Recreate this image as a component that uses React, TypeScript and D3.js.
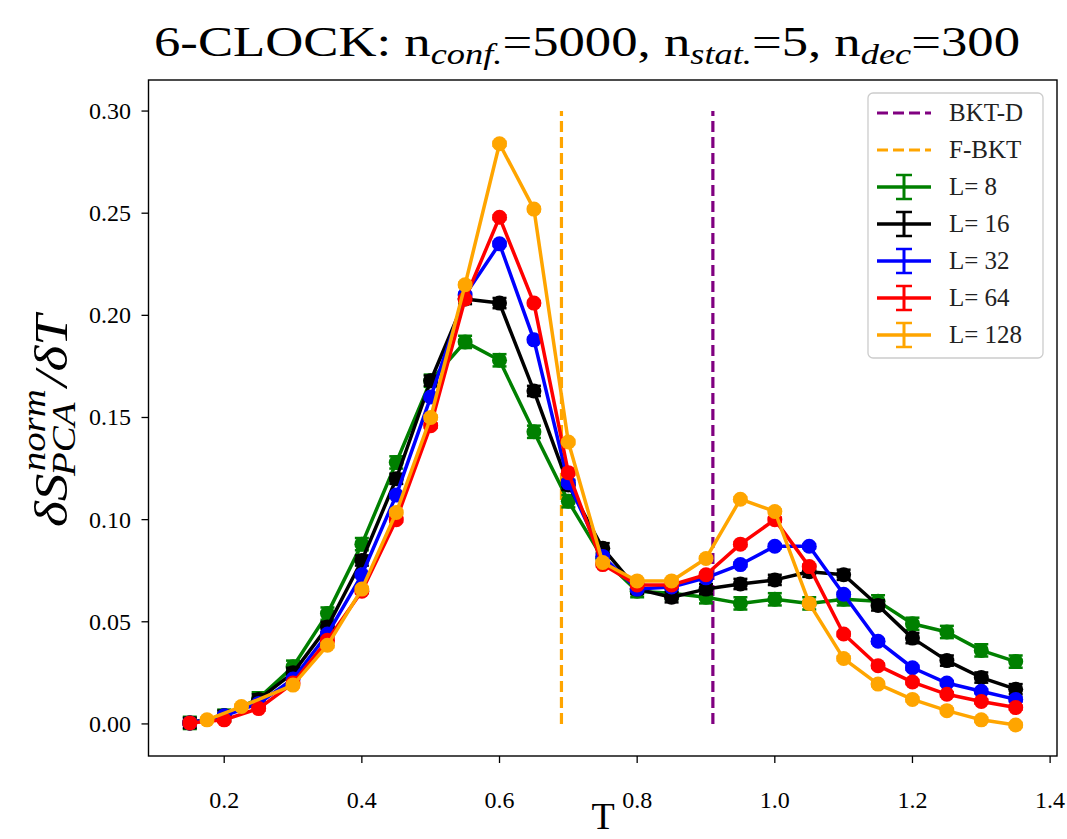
import React, { useEffect, useRef } from "react";
import * as d3 from "d3";

// ---- data ----
const T_VALUES = [0.15, 0.2, 0.25, 0.3, 0.35, 0.4, 0.45, 0.5, 0.55, 0.6, 0.65, 0.7, 0.75, 0.8, 0.85, 0.9, 0.95, 1.0, 1.05, 1.1, 1.15, 1.2, 1.25, 1.3, 1.35];
const T_VALUES_L128 = [0.175, 0.225, 0.3, 0.35, 0.4, 0.45, 0.5, 0.55, 0.6, 0.65, 0.7, 0.75, 0.8, 0.85, 0.9, 0.95, 1.0, 1.05, 1.1, 1.15, 1.2, 1.25, 1.3, 1.35];

const L8 = [0.0005, 0.004, 0.0125, 0.028, 0.054, 0.088, 0.128, 0.168, 0.187, 0.178, 0.143, 0.109, 0.081, 0.065, 0.064, 0.062, 0.059, 0.061, 0.059, 0.061, 0.06, 0.049, 0.045, 0.036, 0.0305];
const L16 = [0.0005, 0.004, 0.012, 0.025, 0.0475, 0.08, 0.12, 0.168, 0.208, 0.206, 0.163, 0.117, 0.086, 0.066, 0.062, 0.066, 0.0685, 0.0705, 0.0745, 0.073, 0.058, 0.042, 0.031, 0.0227, 0.017];
const L32 = [0.0005, 0.004, 0.01, 0.022, 0.044, 0.073, 0.112, 0.16, 0.21, 0.235, 0.188, 0.118, 0.082, 0.066, 0.067, 0.0715, 0.078, 0.087, 0.087, 0.0635, 0.0405, 0.0275, 0.02, 0.016, 0.012];
const L64 = [0.0005, 0.002, 0.0075, 0.02, 0.041, 0.065, 0.1, 0.146, 0.208, 0.248, 0.206, 0.123, 0.078, 0.068, 0.068, 0.073, 0.088, 0.1, 0.077, 0.044, 0.0285, 0.0205, 0.0145, 0.011, 0.008];
const L128 = [0.002, 0.0085, 0.019, 0.0385, 0.066, 0.1035, 0.15, 0.215, 0.284, 0.252, 0.138, 0.079, 0.07, 0.07, 0.081, 0.11, 0.104, 0.059, 0.032, 0.0195, 0.012, 0.0065, 0.002, -0.0005];

const ERR_L8 = 0.003;
const ERR_L16 = 0.0025;
const ERR_L32 = 0.001;
const ERR_L64 = 0.001;
const ERR_L128 = 0.001;

const SERIES_LABELS = ["L= 8", "L= 16", "L= 32", "L= 64", "L= 128"];
const SERIES_COLORS = ["#008000", "#000000", "#0000ff", "#ff0000", "#ffa500"];

const BKT_D = 0.91;
const F_BKT = 0.69;
const VLINE_RANGE = [0, 0.3];

const X_TICKS = [0.2, 0.4, 0.6, 0.8, 1.0, 1.2, 1.4];
const Y_TICKS = [0, 0.05, 0.1, 0.15, 0.2, 0.25, 0.3];

const FONT = "'Liberation Serif', 'DejaVu Serif', serif";

export default function App() {
  const ref = useRef<SVGSVGElement>(null);

  useEffect(() => {
    const svg = d3.select(ref.current);
    svg.selectAll("*").remove();

    const left = 148.5, right = 1057, top = 80, bottom = 756;
    const x = d3.scaleLinear().domain([0.09, 1.41]).range([left, right]);
    const y = d3.scaleLinear().domain([-0.0157, 0.3152]).range([bottom, top]);

    svg.append("rect").attr("width", 1067).attr("height", 839).attr("fill", "#fff");

    // vertical lines
    const vl = [
      { v: BKT_D, c: "#800080" },
      { v: F_BKT, c: "#ffa500" },
    ];
    vl.forEach((d) => {
      svg.append("line")
        .attr("x1", x(d.v)).attr("x2", x(d.v))
        .attr("y1", y(VLINE_RANGE[0])).attr("y2", y(VLINE_RANGE[1]))
        .attr("stroke", d.c).attr("stroke-width", 3.2)
        .attr("stroke-dasharray", "11,5");
    });

    const series = [
      { t: T_VALUES, v: L8, e: ERR_L8 },
      { t: T_VALUES, v: L16, e: ERR_L16 },
      { t: T_VALUES, v: L32, e: ERR_L32 },
      { t: T_VALUES, v: L64, e: ERR_L64 },
      { t: T_VALUES_L128, v: L128, e: ERR_L128 },
    ];

    const line = d3.line<[number, number]>().x((d) => x(d[0])).y((d) => y(d[1]));

    series.forEach((s, i) => {
      const color = SERIES_COLORS[i];
      const pts: [number, number][] = s.t.map((t, k) => [t, s.v[k]]);
      const g = svg.append("g");
      g.append("path").attr("d", line(pts)).attr("fill", "none")
        .attr("stroke", color).attr("stroke-width", 3.5).attr("stroke-linejoin", "round");
      // error bars (under markers)
      pts.forEach((d) => {
        const cx = x(d[0]);
        const y1 = y(d[1] - s.e), y2 = y(d[1] + s.e);
        g.append("line").attr("x1", cx).attr("x2", cx).attr("y1", y1).attr("y2", y2)
          .attr("stroke", color).attr("stroke-width", 3);
        [y1, y2].forEach((yy) => {
          g.append("line").attr("x1", cx - 7).attr("x2", cx + 7).attr("y1", yy).attr("y2", yy)
            .attr("stroke", color).attr("stroke-width", 2.5);
        });
      });
      g.selectAll("circle.m").data(pts).enter().append("circle")
        .attr("cx", (d) => x(d[0])).attr("cy", (d) => y(d[1])).attr("r", 7.5).attr("fill", color);
    });

    // frame
    svg.append("rect").attr("x", left).attr("y", top).attr("width", right - left).attr("height", bottom - top)
      .attr("fill", "none").attr("stroke", "#000").attr("stroke-width", 1.4);

    // x ticks
    X_TICKS.forEach((t) => {
      const px = x(t);
      svg.append("line").attr("x1", px).attr("x2", px).attr("y1", bottom).attr("y2", bottom + 7)
        .attr("stroke", "#000").attr("stroke-width", 1.3);
      svg.append("text").attr("x", px).attr("y", 808).attr("text-anchor", "middle")
        .attr("font-family", FONT).attr("font-size", 24).text(t.toFixed(1));
    });
    // y ticks
    Y_TICKS.forEach((t) => {
      const py = y(t);
      svg.append("line").attr("x1", left - 7).attr("x2", left).attr("y1", py).attr("y2", py)
        .attr("stroke", "#000").attr("stroke-width", 1.3);
      svg.append("text").attr("x", 131).attr("y", py + 8).attr("text-anchor", "end")
        .attr("font-family", FONT).attr("font-size", 24).text(t.toFixed(2));
    });

    // x label
    svg.append("text").attr("x", 603).attr("y", 829).attr("text-anchor", "middle")
      .attr("font-family", FONT).attr("font-size", 38).text("T");

    // title
    const title = svg.append("text").attr("x", 587).attr("y", 56).attr("text-anchor", "middle")
      .attr("font-family", FONT).attr("font-size", 42)
      .attr("textLength", 866).attr("lengthAdjust", "spacingAndGlyphs");
    const tparts: [string, boolean][] = [
      ["6-CLOCK: n", false], ["conf.", true], ["=5000, n", false], ["stat.", true], ["=5, n", false], ["dec", true], ["=300", false],
    ];
    let shifted = false;
    tparts.forEach(([s, sub]) => {
      const ts = title.append("tspan").text(s);
      if (sub) {
        ts.attr("font-style", "italic").attr("font-size", 29).attr("dy", 8);
        shifted = true;
      } else if (shifted) {
        ts.attr("dy", -8);
        shifted = false;
      }
    });

    // y label
    const ylOuter = svg.append("g").attr("transform", "translate(0,421) rotate(-90)");
    const yl = ylOuter.append("g");
    const mk = (s: string, size: number) =>
      yl.append("text").attr("font-family", FONT).attr("font-style", "italic").attr("font-size", size).text(s);
    const baseY = 67;
    const a = mk("\u03B4S", 47);
    const sup = mk("norm", 33);
    const sub = mk("PCA", 33);
    const b = mk("/\u03B4T", 47);
    const wa = (a.node() as SVGTextElement).getComputedTextLength();
    const wsup = (sup.node() as SVGTextElement).getComputedTextLength();
    const wsub = (sub.node() as SVGTextElement).getComputedTextLength();
    const wb = (b.node() as SVGTextElement).getComputedTextLength();
    const total = wa + Math.max(wsup, wsub) + 4 + wb;
    let x0 = -total / 2;
    a.attr("x", x0).attr("y", baseY);
    x0 += wa;
    sup.attr("x", x0 + 2).attr("y", baseY - 22);
    sub.attr("x", x0 - 2).attr("y", baseY + 8);
    x0 += Math.max(wsup, wsub) + 4;
    b.attr("x", x0).attr("y", baseY);
    const k = 212 / total;
    yl.attr("transform", `scale(${k},1)`);

    // legend
    const lg = svg.append("g");
    lg.append("rect").attr("x", 868).attr("y", 93).attr("width", 175).attr("height", 265).attr("rx", 5)
      .attr("fill", "#fff").attr("fill-opacity", 0.8).attr("stroke", "#cccccc").attr("stroke-width", 1.3);
    const entries = [
      { label: "BKT-D", color: "#800080", dashed: true },
      { label: "F-BKT", color: "#ffa500", dashed: true },
      ...SERIES_LABELS.map((l, i) => ({ label: l, color: SERIES_COLORS[i], dashed: false })),
    ];
    entries.forEach((en, i) => {
      const cy = 113 + i * 37;
      lg.append("line").attr("x1", 877).attr("x2", 931).attr("y1", cy).attr("y2", cy)
        .attr("stroke", en.color).attr("stroke-width", en.dashed ? 3.2 : 3.5)
        .attr("stroke-dasharray", en.dashed ? "11,5" : null);
      if (!en.dashed) {
        lg.append("line").attr("x1", 904).attr("x2", 904).attr("y1", cy - 12).attr("y2", cy + 12)
          .attr("stroke", en.color).attr("stroke-width", 3);
        [cy - 12, cy + 12].forEach((yy) => {
          lg.append("line").attr("x1", 896).attr("x2", 912).attr("y1", yy).attr("y2", yy)
            .attr("stroke", en.color).attr("stroke-width", 2.5);
        });
      }
      lg.append("text").attr("x", 949).attr("y", cy + 8).attr("font-family", FONT).attr("font-size", 25)
        .attr("fill", "#222").text(en.label);
    });
  }, []);

  return (
    <svg ref={ref} width={1067} height={839}
      style={{ position: "absolute", left: 0, top: 0, display: "block" }} />
  );
}
